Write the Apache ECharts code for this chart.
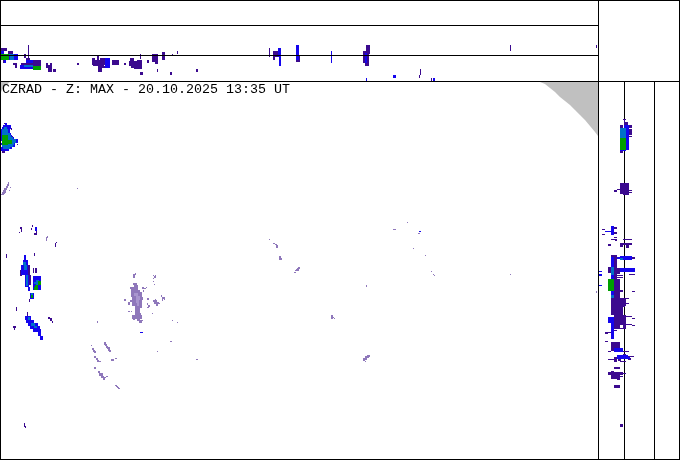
<!DOCTYPE html>
<html><head><meta charset="utf-8">
<script src="https://cdn.jsdelivr.net/npm/echarts@6/dist/echarts.min.js"></script>
<style>html,body{margin:0;padding:0;background:#fff}#c{width:680px;height:460px}</style></head>
<body><div id="c"></div>
<script>
const heading = 'CZRAD - Z: MAX - 20.10.2025 13:35 UT';
// frame rules: [x1,y1,x2,y2]
const backRules = [[624.5,81,624.5,460],[654.5,81,654.5,460]];
const frontRules = [[0,0.5,680,0.5],[0,25.5,598,25.5],[0,55.5,598,55.5],[0,81.5,680,81.5],[598.5,0,598.5,460],[0.5,0,0.5,460],[679.5,0,679.5,460],[0,459.5,680,459.5]];
// no-coverage areas outside the radar range
const outOfRangeNE = [[540,82],[545,84],[550,88],[555,92],[560,97],[565,101],[570,105],[575,110],[580,115],[585,120],[590,126],[595,132],[598,136],[598,82]];
const outOfRangeNW = [[1,82],[10,82],[6,85],[3,88],[1,92]];
// echo cells [x,y,w,h], by reflectivity class
const echoFaint = [
 [8,182,1,2],[7,184,2,2],[6,186,2,2],[10,187,1,1],[4,188,3,2],[9,190,1,1],[3,190,3,2],[5,192,1,1],[2,192,3,2],[1,194,3,1],[77,188,1,1],
 [46,237,1,4],[47,236,1,2],[133,274,2,4],[135,273,1,2],[153,275,1,1],[155,275,1,1],[154,276,2,2],[153,278,1,1],[153,281,1,1],[154,284,1,1],
 [133,283,4,2],[134,285,4,2],[130,287,8,2],[131,289,7,3],[138,290,2,2],[142,287,2,2],[144,288,2,1],[143,290,1,2],[146,287,1,1],
 [131,292,11,2],[131,294,11,3],[132,297,11,3],[124,299,2,2],[128,302,2,3],[130,300,12,2],[132,302,10,3],[133,305,9,1],[132,305,2,1],[135,306,7,2],[135,308,5,3],[135,311,5,2],[128,311,2,1],[131,311,1,1],[135,313,6,2],[132,315,10,2],[132,317,3,2],[135,317,4,2],[139,317,3,2],[133,319,2,1],[137,319,3,2],[139,320,3,3],[142,320,1,1],
 [147,298,2,2],[147,303,1,2],[148,305,2,2],[147,307,2,1],[152,313,1,1],[153,300,4,2],[155,299,1,1],[154,302,5,2],[156,304,2,2],[158,303,2,1],[161,295,1,2],[162,297,2,2],[164,297,1,3],[162,299,1,2],[97,321,1,2],[172,320,1,1],[177,322,1,1],
 [170,341,2,1],[157,351,1,1],[196,359,2,1],[91,345,1,1],[104,342,2,3],[105,344,2,2],[106,346,2,2],[107,347,3,2],[108,349,2,2],[109,350,2,2],[92,348,2,2],[93,350,2,2],[94,351,2,2],
 [94,356,2,2],[96,358,2,2],[97,360,2,2],[99,361,2,1],[111,359,3,2],[115,358,2,1],[94,367,2,2],[98,371,2,2],[99,373,4,3],[101,376,3,2],[103,377,3,1],[103,378,2,2],[106,376,2,1],[115,385,2,1],[116,386,2,1],[117,387,2,1],[118,388,2,1],
 [269,239,1,1],[273,243,2,1],[275,244,2,1],[276,245,2,3],[279,256,2,4],[281,258,1,2],[298,267,2,1],[297,268,3,1],[296,269,3,2],[295,270,2,1],[294,272,2,1],
 [366,285,1,2],[331,315,2,4],[333,317,1,1],[334,318,1,1],[367,355,3,2],[365,356,4,2],[363,358,4,2],[363,360,2,1],[365,361,1,1],
 [407,222,1,1],[393,229,3,1],[418,233,2,1],[413,248,1,1],[425,255,1,1],[431,271,1,1],[433,274,1,1],[434,275,1,1],[510,274,1,1],[596,291,1,2]
];
const echoPale = [[134,293,4,3],[136,296,4,4],[136,300,3,3],[137,303,2,3]];
const echoDark = [
 // top strip
 [1,48,6,3],[8,51,5,3],[28,45,1,15],[24,54,2,4],[26,58,4,4],[3,60,1,3],[13,63,4,2],[15,65,2,3],[21,63,20,6],[33,60,8,4],[46,63,2,5],[50,63,2,5],[48,65,3,3],[48,68,4,4],[53,69,3,3],[77,63,2,2],
 [92,58,3,2],[97,56,2,4],[100,58,5,4],[92,60,18,5],[93,65,11,1],[98,66,10,2],[98,68,4,4],[112,60,7,5],[124,63,2,2],
 [130,58,4,3],[129,61,13,5],[131,66,11,2],[137,60,5,1],[140,54,1,5],[134,68,8,1],[140,72,3,3],[147,60,2,3],[152,54,6,8],[155,62,3,2],[162,52,3,8],[172,54,1,2],[177,51,1,3],[157,69,1,3],[170,72,2,3],[196,69,2,3],
 [269,48,1,9],[273,51,5,6],[273,57,2,3],[296,56,4,6],[363,51,6,12],[366,45,4,9],[365,63,4,3],[420,69,1,6],[419,75,1,3],[431,78,1,3],[510,45,1,6],[596,45,1,3],
 // plan view
 [2,151,3,2],[4,123,1,1],[11,128,1,2],[12,136,1,1],[15,139,2,1],[17,144,1,1],[20,227,2,2],[21,229,1,3],[19,232,1,1],[32,225,1,2],[31,228,1,2],[36,229,1,6],[34,233,2,2],[55,243,1,4],[56,242,1,1],[6,254,1,4],[34,253,1,3],[28,265,2,10],[20,270,2,6],[29,275,2,10],[33,268,1,5],[35,268,2,5],[16,307,1,4],[27,312,1,4],[13,326,3,2],[14,328,1,2],[48,317,2,2],[50,318,2,3],[52,321,1,2],[24,423,1,4],[25,426,1,2],[42,338,1,2],[29,299,1,3],
 // side strip
 [623,119,3,1],[624,120,1,2],[624,122,4,3],[620,125,3,3],[629,125,3,3],[629,129,3,6],[629,136,3,1],[620,150,3,3],[623,150,1,1],
 [620,183,9,11],[623,194,6,1],[614,190,3,2],[617,189,3,1],[629,190,3,1],[629,192,3,1],[614,227,3,2],[602,229,3,1],[602,234,3,1],[614,232,3,2],[614,237,3,1],[611,239,6,1],[623,239,9,1],[615,240,2,1],[608,244,3,2],[620,243,3,4],[623,243,9,2],[626,245,3,3],
 [611,255,6,2],[614,257,3,41],[632,257,3,2],[608,267,3,6],[617,268,3,6],[629,274,6,1],[617,275,6,1],[617,277,6,1],[617,279,3,1],[632,291,3,1],[620,290,3,2],[617,280,3,18],
 [611,298,15,8],[626,298,3,1],[626,303,3,1],[611,306,12,9],[623,306,2,1],[614,315,12,5],[626,316,6,1],[632,318,3,1],
 [614,320,12,5],[626,324,6,1],[632,325,3,1],[614,325,6,4],[623,325,3,4],[620,328,3,1],[611,330,6,1],[605,332,3,2],[608,332,6,1],[605,341,3,1],
 [611,342,9,6],[611,348,3,3],[608,351,3,1],[614,351,15,1],[623,354,3,1],[628,356,6,1],[614,357,3,5],[628,358,3,2],[608,359,6,1],[618,359,3,2],[620,361,6,1],
 [614,367,6,2],[611,371,3,1],[608,372,15,3],[623,373,3,1],[611,375,9,4],[617,379,3,1],[620,376,3,1],[614,385,6,3],[620,424,3,3]
];
const echoBlue = [
 [0,51,4,3],[8,54,2,6],[14,54,4,6],[4,60,2,3],[20,65,13,4],[26,60,7,3],[105,58,5,10],[278,48,1,9],[279,48,2,18],[296,45,3,15],[331,51,1,12],[365,53,2,10],[366,78,1,3],[393,75,3,3],[433,78,2,3],[140,332,3,1],
 [5,123,2,2],[3,125,8,2],[2,127,9,2],[1,129,9,4],[1,133,10,2],[1,135,11,2],[1,137,13,2],[1,139,17,2],[2,141,16,2],[1,143,14,2],[2,145,13,2],[1,147,11,2],[1,149,8,2],[35,227,2,4],
 [24,255,2,5],[23,260,5,5],[21,265,7,10],[25,275,4,12],[28,287,2,4],[33,276,8,14],[30,293,4,6],
 [25,316,6,4],[26,320,8,3],[28,323,10,3],[30,326,10,3],[33,329,8,3],[38,332,3,4],[40,336,3,4],
 [419,231,2,1],[624,125,2,3],[626,125,3,25],[620,150,6,1],
 [611,226,3,9],[605,231,6,1],[611,257,3,40],[620,256,12,4],[617,257,3,2],[620,268,15,4],[599,271,3,1],[599,274,3,2],[599,285,3,1],[608,317,6,6],[611,323,3,16],[614,348,9,4],[617,355,11,4],[622,357,8,2]
];
const echoAzure = [
 [1,54,9,1],[10,54,4,6],[24,65,9,2],
 [4,127,3,2],[2,129,6,4],[2,133,8,2],[8,135,3,2],[8,137,5,2],[8,139,8,1],[10,140,6,3],[8,143,6,2],[2,145,11,2],[3,147,7,2],
 [24,265,3,5],[23,262,3,3],[26,275,2,11],[36,280,3,5],[34,282,3,2],[31,293,2,2],[28,317,2,3],[31,323,4,3],[34,326,3,2],
 [620,128,6,10],[611,267,3,8],[611,295,3,3],[620,258,3,2]
];
const echoGreen = [
 [1,54,8,6],[33,66,8,4],[36,69,5,1],
 [2,135,6,10],[8,140,4,4],[38,281,3,4],[35,285,3,5],[34,287,2,3],[31,295,2,3],
 [620,138,6,12],[608,279,6,12]
];
const bands = [['#8f78bb',echoFaint],['#a996cf',echoPale],['#3b0a8f',echoDark],['#1405ee',echoBlue],['#0070c8',echoAzure],['#00a000',echoGreen]];

function cells(data,color){return {type:'custom',coordinateSystem:'cartesian2d',silent:true,data,
 renderItem(p,api){const a=api.coord([api.value(0),api.value(1)]),b=api.coord([api.value(0)+api.value(2),api.value(1)+api.value(3)]);
  return {type:'rect',shape:{x:a[0],y:a[1],width:b[0]-a[0],height:b[1]-a[1]},style:{fill:color}};}};}
function rules(data){return {type:'custom',coordinateSystem:'cartesian2d',silent:true,data,
 renderItem(p,api){const a=api.coord([api.value(0),api.value(1)]),b=api.coord([api.value(2),api.value(3)]);
  return {type:'line',shape:{x1:a[0],y1:a[1],x2:b[0],y2:b[1]},style:{stroke:'#000',lineWidth:1}};}};}
function area(pts,color){return {type:'custom',coordinateSystem:'cartesian2d',silent:true,data:[0],
 renderItem(p,api){return {type:'polygon',shape:{points:pts.map(q=>api.coord(q))},style:{fill:color}};}};}

const chart=echarts.init(document.getElementById('c'),null,{renderer:'canvas'});
chart.setOption({animation:false,backgroundColor:'#fff',
 title:{text:heading,left:2,top:82,padding:0,textStyle:{fontFamily:'Liberation Mono',fontSize:13.33,fontWeight:'normal',color:'#000',lineHeight:14}},
 grid:{left:0,right:0,top:0,bottom:0},
 xAxis:{type:'value',min:0,max:680,show:false},
 yAxis:{type:'value',min:0,max:460,inverse:true,show:false},
 series:[area(outOfRangeNE,'#c0c0c0'),area(outOfRangeNW,'#c0c0c0'),rules(backRules),
  ...bands.map(b=>cells(b[1],b[0])),rules(frontRules)]});
</script></body></html>
